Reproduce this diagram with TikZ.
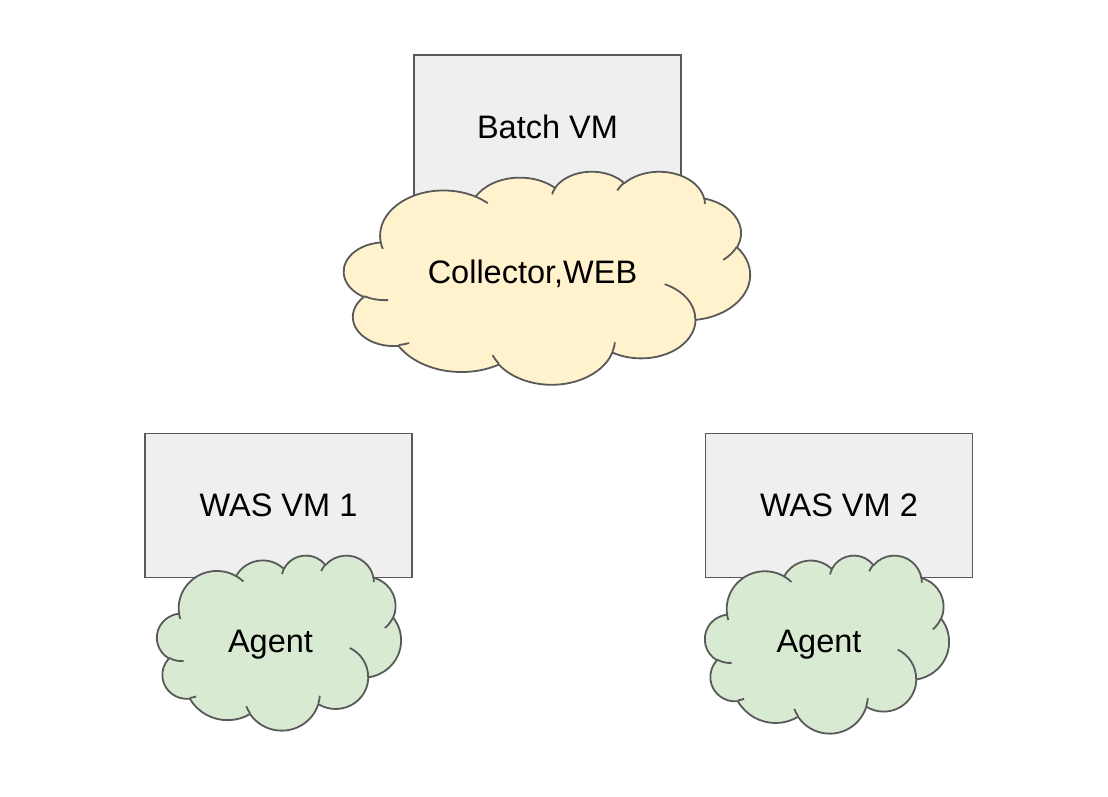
\documentclass[tikz,border=0pt]{standalone}
\usepackage{fontspec}
\setmainfont{Liberation Sans}
\definecolor{boxfill}{HTML}{EFEFEF}
\definecolor{edge}{HTML}{595959}
\definecolor{yellowfill}{HTML}{FFF2CC}
\definecolor{greenfill}{HTML}{D9EAD3}
% OOXML-style elliptical arc: radii and visual angles converted to parametric ones
\newcommand{\ca}[4]{arc[x radius={#1/432}, y radius={#2/432}, start angle={atan2(#1*sin(#3),#2*cos(#3))}, delta angle={mod(atan2(#1*sin(#3+#4),#2*cos(#3+#4))-atan2(#1*sin(#3),#2*cos(#3))+720,360)}]}
\newcommand{\cloudshape}[1]{%
  \filldraw[cloudline, fill=#1] (9.0278,33.2639)
    \ca{6753}{9190}{-190.48748}{123.78053}
    \ca{5333}{7267}{-144.10238}{89.94523}
    \ca{4365}{5945}{-145.80792}{99.72302}
    \ca{4857}{6595}{-130.98607}{117.24173}
    \ca{5333}{7273}{-78.70888}{109.02692}
    \ca{6775}{9220}{-46.26725}{130.269}
    \ca{5785}{7867}{0.62502}{114.03333}
    \ca{6752}{9215}{22.4516}{115.17255}
    \ca{7720}{10543}{66.24263}{75.71102}
    \ca{4360}{5918}{-274.94208}{146.73557}
    \ca{4345}{5945}{-246.8285}{152.51885} -- cycle;
  \draw[cloudline]
    (10.8634,60.5949) \ca{4345}{5945}{86.742}{26.4295}
    (16.0370,80.7847) \ca{4360}{5918}{73.61047}{11.44747}
    (38.1435,90.4861) \ca{6752}{9215}{137.62415}{14.0811}
    (66.7292,80.4421) \ca{6752}{9215}{6.45327}{15.99835}
    (79.0023,53.1343) \ca{5785}{7867}{-70.29235}{70.91737}
    (96.7546,35.5417) \ca{5333}{7273}{30.31803}{27.7515}
    (88.7130,12.5602) \ca{4857}{6595}{-13.74433}{14.8589}
    (67.3102,9.1481) \ca{4857}{6595}{-149.18145}{18.19537}
    (51.2523,10.9259) \ca{4365}{5945}{-163.49427}{17.68635}
    (32.4074,12.0185) \ca{6753}{9190}{-66.70695}{12.31935}
    (9.5532,36.5486) \ca{6753}{9190}{157.65435}{11.85817};
}
\tikzset{
  vmbox/.style={draw=edge, fill=boxfill, line width=1.8pt, minimum width=267pt, minimum height=144pt, inner sep=0pt, font=\fontsize{32.5}{38}\selectfont},
  cloudline/.style={draw=edge, line width=1.8pt, line join=round},
  cloudtext/.style={anchor=base, inner sep=0pt, font=\fontsize{32.5}{38}\selectfont}
}
\begin{document}
\begin{tikzpicture}[x=1pt, y=-1pt]
\useasboundingbox[fill=white] (0,0) rectangle (1108,796);
% boxes
\node[vmbox] (batch) at (547.5,127) {Batch VM};
\node[vmbox] (was1) at (278.5,505.5) {WAS VM 1};
\node[vmbox] (was2) at (839,505.5) {WAS VM 2};
% clouds
\begin{scope}[shift={(344,171)}, x=4.06pt, y=-2.13pt]
  \cloudshape{yellowfill}
\end{scope}
\begin{scope}[shift={(157,555)}, x=2.44pt, y=-1.75pt]
  \cloudshape{greenfill}
\end{scope}
\begin{scope}[shift={(705,555)}, x=2.44pt, y=-1.78pt]
  \cloudshape{greenfill}
\end{scope}
\node[cloudtext] (collector) at (532.5,283) {Collector,WEB};
\node[cloudtext] (agent1) at (270.5,652) {Agent};
\node[cloudtext] (agent2) at (819,652) {Agent};
\end{tikzpicture}
\end{document}
